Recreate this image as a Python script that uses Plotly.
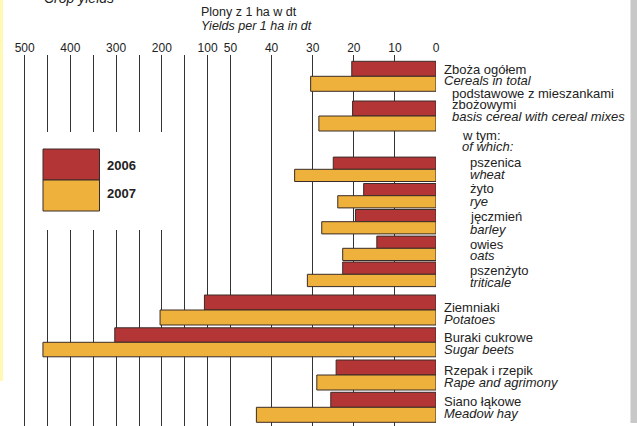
import plotly.graph_objects as go

# ---------------- data ----------------
labels_pl = ["Zboża ogółem", "podstawowe z mieszankami|zbożowymi", "pszenica", "żyto",
             "jęczmień", "owies", "pszenżyto", "Ziemniaki", "Buraki cukrowe",
             "Rzepak i rzepik", "Siano łąkowe"]
labels_en = ["Cereals in total", "basis cereal with cereal mixes", "wheat", "rye",
             "barley", "oats", "triticale", "Potatoes", "Sugar beets",
             "Rape and agrimony", "Meadow hay"]
yields_2006 = [20.5, 20.3, 25.0, 17.6, 19.6, 14.4, 22.7, 107, 303, 24.3, 25.6]
yields_2007 = [30.5, 28.5, 34.4, 23.9, 27.8, 22.7, 31.3, 204, 460, 29.0, 43.7]
tick_values = [500, 450, 400, 350, 300, 250, 200, 150, 100, 50, 40, 30, 20, 10, 0]
tick_labels = ["500", "", "400", "", "300", "", "200", "", "100", "50", "40", "30", "20", "10", "0"]

# ---------------- layout helpers ----------------
W, H = 637, 426
ML, MR, MT, MB = 0, 201, 55, 0
PW = W - ML - MR
BREAK = 50.0
K = 0.1113          # compression of the scale above 50
PX_PER_UNIT = 4.11


def t(v):
    """Broken axis: linear 0-50, compressed 50-500."""
    return v if v <= BREAK else BREAK + (v - BREAK) * K


# row geometry (y in pixel units of the axis), bar thickness
row_mid = [76.3, 116.0, 169.3, 195.7, 221.7, 248.3, 274.3, 310.0, 342.3, 375.0, 407.3]
row_h = [15, 15, 12.2, 12.2, 12.2, 12.2, 12.3, 15, 14.5, 15, 15]
label_x = [442, 450, 468, 468, 468, 468, 468, 442, 442, 442, 442]
label_y_pl = [69.0, 93.0, 162.7, 188.3, 216.0, 244.0, 270.7, 307.7, 337.7, 370.7, 401.7]
label_y_en = [80.7, 116.7, 174.3, 201.0, 229.0, 255.7, 282.3, 319.3, 349.3, 382.7, 413.3]

RED = "#B43535"
ORANGE = "#EEB13B"
EDGE = "#3a2c28"
TXT = "#222222"
FONT = "Liberation Sans, Arial, sans-serif"

fig = go.Figure()
fig.add_trace(go.Bar(
    orientation="h", name="2006",
    x=[t(v) for v in yields_2006],
    y=[m - h / 2 for m, h in zip(row_mid, row_h)],
    width=row_h, marker=dict(color=RED, line=dict(color=EDGE, width=1)),
    hoverinfo="skip", customdata=yields_2006))
fig.add_trace(go.Bar(
    orientation="h", name="2007",
    x=[t(v) for v in yields_2007],
    y=[m + h / 2 for m, h in zip(row_mid, row_h)],
    width=row_h, marker=dict(color=ORANGE, line=dict(color=EDGE, width=1)),
    hoverinfo="skip", customdata=yields_2007))


def px2paper_x(px):
    return (px - ML) / PW


def px2paper_y(py):
    return (H - MB - py) / (H - MT - MB)


ann = []
for i in range(len(labels_pl)):
    lines = labels_pl[i].split("|")
    if len(lines) == 2:
        ys = [label_y_pl[i], label_y_pl[i] + 11.3]
    else:
        ys = [label_y_pl[i]]
    for line, yy in zip(lines, ys):
        ann.append(dict(x=px2paper_x(label_x[i]), xref="paper", y=yy, yref="y",
                        text=line, showarrow=False, xanchor="left", yanchor="middle",
                        font=dict(size=13, color=TXT, family=FONT)))
    ann.append(dict(x=px2paper_x(label_x[i]), xref="paper", y=label_y_en[i], yref="y",
                    text="<i>" + labels_en[i] + "</i>", showarrow=False,
                    xanchor="left", yanchor="middle",
                    font=dict(size=13, color=TXT, family=FONT)))

# "w tym: / of which:"
ann.append(dict(x=px2paper_x(460), xref="paper", y=135, yref="y", text="w tym:",
                showarrow=False, xanchor="left", yanchor="middle",
                font=dict(size=13, color=TXT, family=FONT)))
ann.append(dict(x=px2paper_x(460), xref="paper", y=146.3, yref="y", text="<i>of which:</i>",
                showarrow=False, xanchor="left", yanchor="middle",
                font=dict(size=13, color=TXT, family=FONT)))

# unit titles
ann.append(dict(x=px2paper_x(199), xref="paper", y=px2paper_y(11.7), yref="paper",
                text="Plony z 1 ha w dt", showarrow=False, xanchor="left", yanchor="middle",
                font=dict(size=12.5, color=TXT, family=FONT)))
ann.append(dict(x=px2paper_x(199), xref="paper", y=px2paper_y(26.5), yref="paper",
                text="<i>Yields per 1 ha in dt</i>", showarrow=False, xanchor="left",
                yanchor="middle", font=dict(size=12.5, color=TXT, family=FONT)))
ann.append(dict(x=px2paper_x(42), xref="paper", y=px2paper_y(-2), yref="paper",
                text="<i>Crop yields</i>", showarrow=False, xanchor="left",
                yanchor="middle", font=dict(size=14, color=TXT, family=FONT)))

# legend labels
ann.append(dict(x=px2paper_x(105), xref="paper", y=165.5, yref="y", text="<b>2006</b>",
                showarrow=False, xanchor="left", yanchor="middle",
                font=dict(size=13, color=TXT, family=FONT)))
ann.append(dict(x=px2paper_x(105), xref="paper", y=193.5, yref="y", text="<b>2007</b>",
                showarrow=False, xanchor="left", yanchor="middle",
                font=dict(size=13, color=TXT, family=FONT)))

shapes = [
    # gap in the gridlines behind the legend (no bars lie in this area)
    dict(type="rect", xref="paper", yref="y", x0=px2paper_x(30), x1=px2paper_x(176),
         y0=132, y1=230, fillcolor="white", line=dict(width=0), layer="above"),
    # legend swatches
    dict(type="rect", xref="paper", yref="y", x0=px2paper_x(43), x1=px2paper_x(99.5),
         y0=149, y1=180, fillcolor=RED, line=dict(color=EDGE, width=1), layer="above"),
    dict(type="rect", xref="paper", yref="y", x0=px2paper_x(43), x1=px2paper_x(99.5),
         y0=180, y1=211, fillcolor=ORANGE, line=dict(color=EDGE, width=1), layer="above"),
    # page decorations
    dict(type="rect", xref="paper", yref="paper", x0=px2paper_x(0), x1=px2paper_x(3),
         y0=px2paper_y(381), y1=px2paper_y(0), fillcolor="#FFF9B4", line=dict(width=0)),
    dict(type="rect", xref="paper", yref="paper", x0=px2paper_x(630.5), x1=px2paper_x(637),
         y0=px2paper_y(423), y1=px2paper_y(0), fillcolor="#C8C8C8", line=dict(width=0)),
]

fig.update_layout(
    width=W, height=H, margin=dict(l=ML, r=MR, t=MT, b=MB),
    paper_bgcolor="white", plot_bgcolor="white",
    barmode="overlay", showlegend=False,
    annotations=ann, shapes=shapes,
    font=dict(family=FONT, color=TXT),
    xaxis=dict(range=[PW / PX_PER_UNIT, 0], side="top",
               tickvals=[t(v) for v in tick_values], ticktext=tick_labels,
               showgrid=True, gridcolor="#333333", gridwidth=1,
               zeroline=False, showline=False, ticks="",
               tickfont=dict(size=12, color=TXT, family=FONT), fixedrange=True),
    yaxis=dict(range=[H - MB, MT], visible=False, showgrid=False, zeroline=False,
               fixedrange=True),
)

fig.write_html(
    "out.html",
    config={"displayModeBar": False},
    post_script="document.body.style.margin='0';document.body.style.overflow='hidden';",
)
